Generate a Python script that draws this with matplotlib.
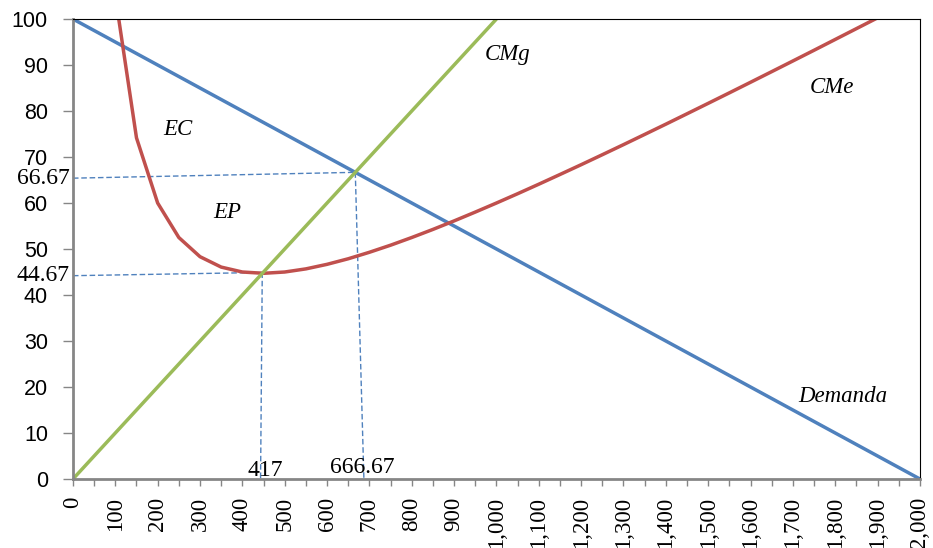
import matplotlib
matplotlib.use("Agg")
import matplotlib.pyplot as plt
from matplotlib.ticker import MultipleLocator, FuncFormatter

# demand, marginal cost, average cost
demanda_x = [0, 2000]
demanda_y = [100, 0]
cmg_x = [0, 1000]
cmg_y = [0, 100]
cme_x = [100, 150, 200, 250, 300, 350, 400, 450, 500, 550, 600, 650, 700, 750,
         800, 850, 900, 950, 1000, 1050, 1100, 1150, 1200, 1250, 1300, 1350,
         1400, 1450, 1500, 1550, 1600, 1650, 1700, 1750, 1800, 1850, 1900]
cme_y = [105, 74.17, 60, 52.5, 48.33, 46.07, 45, 44.72, 45, 45.68, 46.67,
         47.88, 49.29, 50.83, 52.5, 54.26, 56.11, 58.03, 60, 62.02, 64.09,
         66.2, 68.33, 70.5, 72.69, 74.91, 77.14, 79.4, 81.67, 83.95, 86.25,
         88.56, 90.88, 93.21, 95.56, 97.91, 100.26]

# hand-drawn guide lines (slightly slanted like the original)
guide_hi_x = [0, 666.67, 666.67, 687]
guide_hi_y = [65.4, 66.67, 66.67, 0]
guide_lo_x = [0, 447, 447, 443]
guide_lo_y = [44.2, 44.9, 44.9, 0]

blue = "#4F81BD"
red = "#C0504D"
green = "#9BBB59"
serif = "Liberation Serif"

fig = plt.figure(figsize=(9.33, 5.48), dpi=100)
ax = fig.add_axes([0.0782, 0.1259, 0.9078, 0.8394])

dash = (0, (4, 2))
ax.plot(guide_hi_x[:2], guide_hi_y[:2], color=blue, lw=1, ls=dash)
ax.plot(guide_hi_x[2:], guide_hi_y[2:], color=blue, lw=1, ls=dash)
ax.plot(guide_lo_x[:2], guide_lo_y[:2], color=blue, lw=1, ls=dash)
ax.plot(guide_lo_x[2:], guide_lo_y[2:], color=blue, lw=1, ls=dash)

ax.plot(demanda_x, demanda_y, color=blue, lw=2.5, solid_capstyle="butt")
ax.plot(cme_x, cme_y, color=red, lw=2.5)
ax.plot(cmg_x, cmg_y, color=green, lw=2.5, solid_capstyle="butt")

ax.set_xlim(0, 2000)
ax.set_ylim(0, 100)

ax.yaxis.set_major_locator(MultipleLocator(10))
ax.xaxis.set_major_locator(MultipleLocator(100))
ax.xaxis.set_minor_locator(MultipleLocator(50))
ax.xaxis.set_major_formatter(FuncFormatter(lambda v, p: f"{int(v):,}"))

ax.tick_params(axis="y", direction="out", length=7, width=1, color="#868686",
               labelsize=15.5, pad=11)
ax.tick_params(axis="x", which="both", direction="out", length=5, width=1,
               color="#868686", pad=8)
for lab in ax.get_yticklabels():
    lab.set_fontfamily("Liberation Sans")
for lab in ax.get_xticklabels():
    lab.set_fontfamily(serif)
    lab.set_fontsize(16.5)
    lab.set_rotation(90)

ax.spines["left"].set_color("#868686")
ax.spines["bottom"].set_color("#868686")
ax.spines["left"].set_linewidth(2)
ax.spines["bottom"].set_linewidth(2)
ax.spines["top"].set_color("black")
ax.spines["right"].set_color("black")

ax.text(-7, 65.4, "66.67", family=serif, fontsize=17, ha="right", va="center")
ax.text(-7, 44.2, "44.67", family=serif, fontsize=17, ha="right", va="center")
ax.text(455, 0.6, "417", family=serif, fontsize=17, ha="center", va="baseline")
ax.text(684, 1.3, "666.67", family=serif, fontsize=17, ha="center", va="baseline")

it = dict(family=serif, style="italic", fontsize=16.5, ha="center", va="center")
ax.text(248, 75.9, "EC", **it)
ax.text(364, 58, "EP", **it)
ax.text(1027, 92.2, "CMg", **it)
ax.text(1792, 85.2, "CMe", **it)
ax.text(1818, 18.0, "Demanda", **it)

fig.savefig("out.png", dpi=100)
